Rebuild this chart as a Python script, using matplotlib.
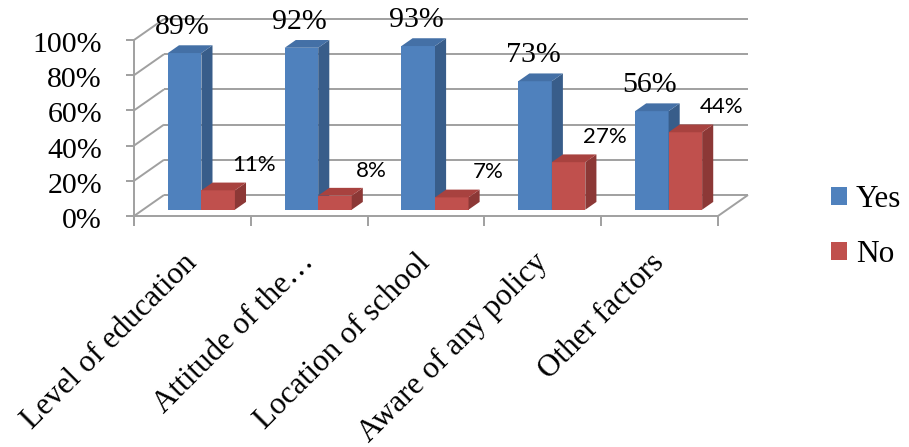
import matplotlib
matplotlib.use("Agg")
import matplotlib.pyplot as plt
from matplotlib.patches import Patch

# ---- data -------------------------------------------------------------
categories = ["Level of education", "Attitude of the\u2026", "Location of school",
              "Aware of any policy", "Other factors"]
yes_vals = [89, 92, 93, 73, 56]
no_vals = [11, 8, 7, 27, 44]
y_ticks = [0, 20, 40, 60, 80, 100]
y_tick_labels = [f"{t}%" for t in y_ticks]
series_names = ["Yes", "No"]

# ---- styling ----------------------------------------------------------
BLUE = dict(front="#4F81BD", side="#385D8A", top="#4470A6")
RED = dict(front="#C0504D", side="#8C3836", top="#A8423F")
GRID = "#A0A0A0"
SERIF = "Liberation Serif"
SANS = "Lato"

PX_X = 116.8          # pixels per category slot
PX_Y = 1.76           # pixels per percentage point
DX = 30 / PX_X        # oblique depth shift (x) for the full depth
DY = 21 / PX_Y        # oblique depth shift (y) for the full depth
Z0, Z1 = 0.30, 0.67   # bar depth range
BAR_W = 0.287
N = len(categories)


def proj(x, y, z):
    return x + z * DX, y + z * DY


def line3d(ax, p, q, **kw):
    (x0, y0), (x1, y1) = proj(*p), proj(*q)
    ax.plot([x0, x1], [y0, y1], solid_capstyle="butt", **kw)


def box(ax, x0, x1, v, colors, zorder):
    faces = [
        ([(x0, 0, Z0), (x1, 0, Z0), (x1, v, Z0), (x0, v, Z0)], colors["front"]),
        ([(x1, 0, Z0), (x1, 0, Z1), (x1, v, Z1), (x1, v, Z0)], colors["side"]),
        ([(x0, v, Z0), (x1, v, Z0), (x1, v, Z1), (x0, v, Z1)], colors["top"]),
    ]
    for pts, c in faces:
        xy = [proj(*p) for p in pts]
        ax.fill([a for a, _ in xy], [b for _, b in xy], color=c, lw=0, zorder=zorder)


fig = plt.figure(figsize=(9.09, 4.47), dpi=100)
ax = fig.add_axes([0, 0, 1, 1])
ax.set_xlim(-134 / PX_X, N + 191 / PX_X)
ax.set_ylim(-231 / PX_Y, 100 + 40 / PX_Y)
ax.axis("off")

gkw = dict(color=GRID, lw=1.4, zorder=1)

# walls: back gridlines and the left-wall diagonals
for t in y_ticks:
    line3d(ax, (0, t, 0), (0, t, 1), **gkw)
    line3d(ax, (0, t, 1), (N, t, 1), **gkw)
    line3d(ax, (-8 / PX_X, t, 0), (0, t, 0), **gkw)  # y tick marks

# value axis and floor
line3d(ax, (0, -10 / PX_Y, 0), (0, 100, 0), **gkw)
line3d(ax, (0, 0, 0), (N, 0, 0), **gkw)
line3d(ax, (N, 0, 0), (N, 0, 1), **gkw)
for i in range(N + 1):
    line3d(ax, (i, 0, 0), (i, -10 / PX_Y, 0), **gkw)

# bars
for i in range(N):
    bx0 = i + 0.5 - BAR_W
    box(ax, bx0, i + 0.5, yes_vals[i], BLUE, zorder=3 + 2 * i)
    box(ax, i + 0.5, i + 0.5 + BAR_W, no_vals[i], RED, zorder=4 + 2 * i)

    # data labels
    lift = Z0 * DY + 19 / PX_Y
    xs, _ = proj(i + 0.5 - BAR_W / 2 - 2 / PX_X, yes_vals[i], Z0)
    ax.text(xs, yes_vals[i] + lift, f"{yes_vals[i]}%", ha="center", va="baseline",
            family=SERIF, fontsize=21.5, zorder=20)
    xr, _ = proj(i + 0.5 + BAR_W / 2 + 36 / PX_X, no_vals[i], Z0)
    ax.text(xr, no_vals[i] + lift, f"{no_vals[i]}%", ha="center", va="baseline",
            family=SANS, fontsize=16, zorder=20)

    # category labels
    ax.text(i + 0.5 - 10 / PX_X, -32 / PX_Y, categories[i], rotation=45,
            rotation_mode="anchor", ha="right", va="top",
            family=SERIF, fontsize=22.5)

# y tick labels
for t, lab in zip(y_ticks, y_tick_labels):
    ax.text(-32 / PX_X, t - 12 / PX_Y, lab, ha="right", va="baseline",
            family=SERIF, fontsize=21.5)

# legend
handles = [Patch(facecolor=BLUE["front"], edgecolor="none"),
           Patch(facecolor=RED["front"], edgecolor="none")]
fig.legend(handles, series_names, loc="center left",
           bbox_to_anchor=(831 / 909, 1 - 227 / 447), frameon=False,
           prop=dict(family=SERIF, size=22.5), handlelength=0.5,
           handleheight=0.5, handletextpad=0.3, labelspacing=0.85,
           borderpad=0, borderaxespad=0)

fig.savefig("out.png", dpi=100)
